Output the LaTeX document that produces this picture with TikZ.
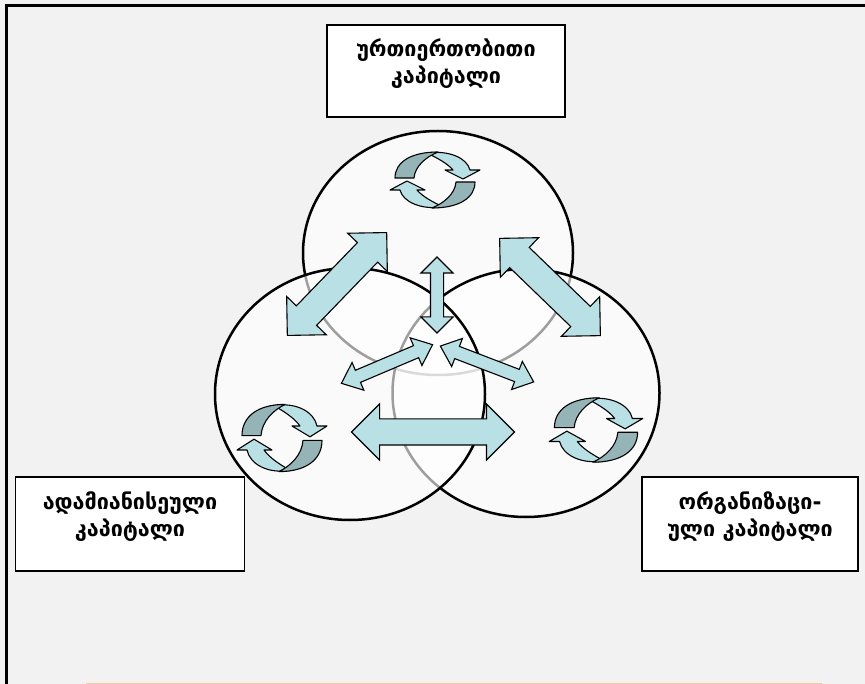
\documentclass[tikz,border=0pt]{standalone}
\usepackage{fontspec}
\usepackage{xcolor}
\usepackage{tikz}
\usetikzlibrary{positioning, shapes.geometric, shapes.arrows}
\newfontfamily\geofont{DejaVu Sans}
\definecolor{pagegray}{HTML}{F2F2F2}
\definecolor{arrowblue}{HTML}{B9E0E4}
\definecolor{cyclelight}{HTML}{B9E0E4}
\definecolor{cycledark}{HTML}{94B4B8}
\definecolor{peach}{HTML}{F7CBA0}
\tikzset{
    frameline/.style = {line width=3pt},                        % Outer frame of the page
    ring/.style = {ellipse, draw, line width=2.5pt,
                   fill=white, fill opacity=0.62, draw opacity=1},
    capbox/.style = {draw, fill=white, line width=1.3pt, align=center,
                     font=\geofont\bfseries\fontsize{21.5}{27.5}\selectfont},
    swap/.style = {double arrow, draw, fill=arrowblue, line width=1.1pt,
                   inner xsep=0pt, double arrow tip angle=90},
    dblarrow/.style n args = {3}{minimum height=#1, inner ysep=#2,
                   double arrow head extend=#3},
    cycleedge/.style = {draw, line width=1.1pt, line join=round},
    turnpair/.pic = {
        \foreach \r in {0,180} {
            \begin{scope}[rotate=\r]
                \draw[cycleedge, fill=cyclelight] (-8,-27) .. controls (14,-30) and (32,-22) .. (35,-10)
                    -- (45,-10) -- (28,-1) -- (10,-10) -- (18,-10)
                    .. controls (12,-17) and (2,-22) .. (-8,-27) -- cycle;
                \draw[cycleedge, fill=cycledark] (-40,-2) .. controls (-40,-18) and (-24,-28) .. (3,-28)
                    .. controls (-9,-23) and (-20,-14) .. (-21,-2) -- cycle;
            \end{scope}
        }
    }
}

\begin{document}
\begin{tikzpicture}[x=1pt, y=-1pt]
    % Page
    \fill[pagegray] (0,0) rectangle (865,684);
    \useasboundingbox (0,0) rectangle (865,684);
    \draw[frameline] (6,684) -- (6,6) -- (865,6);
    \draw[peach, line width=1pt] (86,683) -- (822,683);

    % Define circles
    \node [ring, minimum width=270, minimum height=244] (relC) at (438,253) {};
    \node [ring, minimum width=267, minimum height=248] (orgC) at (526,393) {};
    \node [ring, minimum width=270, minimum height=252] (humC) at (350,394) {};

    % Define labels
    \node [capbox, minimum width=238, minimum height=92] (rel) at (446,71) {ურთიერთობითი\\კაპიტალი\\[-8pt]};
    \node [capbox, minimum width=229, minimum height=94] (hum) at (130,524) {ადამიანისეული\\კაპიტალი\\[-8pt]};
    \node [capbox, minimum width=216, minimum height=94] (org) at (750,524) {ორგანიზაცი-\\ული კაპიტალი\\[-8pt]};

    % Draw exchange arrows
    \node [swap, dblarrow={143}{13.5}{13.5}, rotate=46] (relhum) at (337,284) {};
    \node [swap, dblarrow={140}{13.5}{13.5}, rotate=-44] (relorg) at (550,287) {};
    \node [swap, dblarrow={163}{12.5}{15}] (humorg) at (433,432) {};
    \node [swap, dblarrow={76}{6}{9.5}, rotate=90] (midup) at (437,295) {};
    \node [swap, dblarrow={99}{6}{8.5}, double arrow tip angle=80, rotate=23] (midleft) at (387,364) {};
    \node [swap, dblarrow={100}{6}{8.5}, double arrow tip angle=80, rotate=-21] (midright) at (487,364) {};

    % Draw cycle icons
    \pic at (435,180) {turnpair};
    \pic [yscale=1.2] at (282,438) {turnpair};
    \pic [xscale=1.04, yscale=1.15] at (596,430) {turnpair};
\end{tikzpicture}
\end{document}
